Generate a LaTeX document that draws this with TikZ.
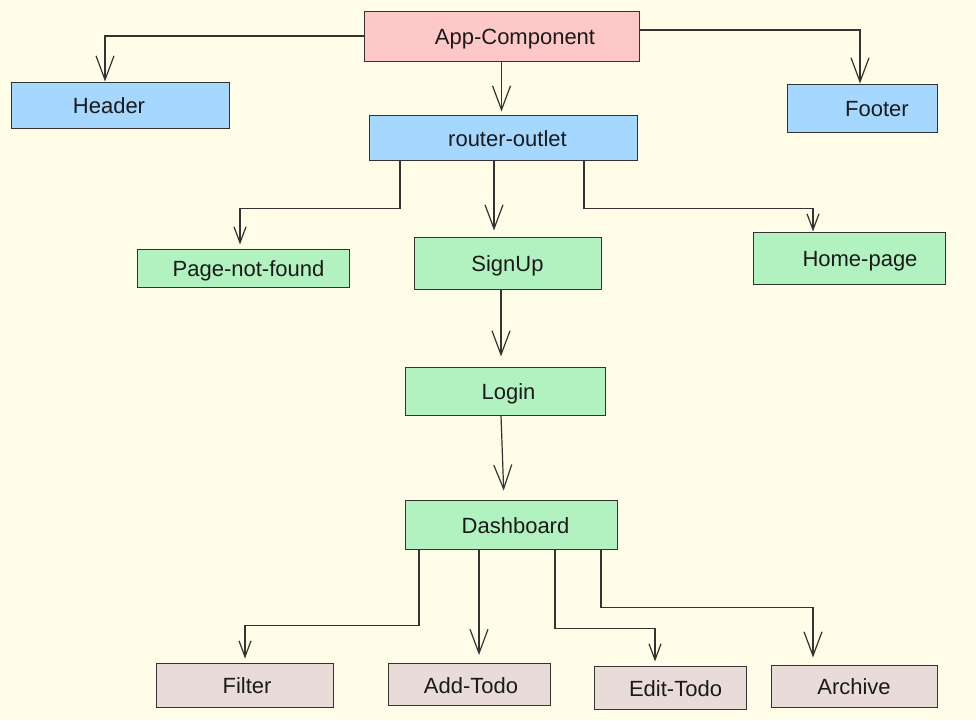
\documentclass[tikz,border=0pt]{standalone}
\usepackage{fontspec}
\setmainfont{Liberation Sans}
\usetikzlibrary{arrows.meta}
\definecolor{bg}{HTML}{FFFDE8}
\definecolor{pinkbox}{HTML}{FFC8C8}
\definecolor{bluebox}{HTML}{A6D8FF}
\definecolor{greenbox}{HTML}{B2F2C0}
\definecolor{taupebox}{HTML}{E9DCD8}
\definecolor{edge}{HTML}{333333}
\definecolor{txt}{HTML}{1A1A1A}
\begin{document}
\begin{tikzpicture}[x=1pt,y=-1pt,
  box/.style={draw=edge, line width=1pt, inner sep=0pt, text=txt,
    text height=17pt, text depth=0pt,
    font=\fontsize{22}{24}\selectfont},
  pushr/.style={execute at begin node={\hspace*{#1}}},
  pushl/.style={execute at end node={\hspace*{#1}}},
  wire/.style={draw=edge, line width=1.2pt,
    -{Straight Barb[length=24pt,width=18pt,line width=1.2pt]}},
  smallwire/.style={draw=edge, line width=1.2pt,
    -{Straight Barb[length=16pt,width=12pt,line width=1.2pt]}}]
\fill[bg] (0,0) rectangle (976,720);
\useasboundingbox (0,0) rectangle (976,720);

% boxes
\node[box, pushr=27pt, fill=pinkbox, minimum width=275pt, minimum height=50pt] (app) at (501.5,36) {App-Component};
\node[box, pushl=22pt, fill=bluebox, minimum width=218pt, minimum height=46pt] (header) at (120,105) {Header};
\node[box, pushr=30pt, fill=bluebox, minimum width=150pt, minimum height=48pt] (footer) at (862,108) {Footer};
\node[box, pushr=9pt, fill=bluebox, minimum width=268pt, minimum height=45pt] (router) at (503,137.5) {router-outlet};
\node[box, pushr=11pt, fill=greenbox, minimum width=212pt, minimum height=38pt] (pnf) at (243,268) {Page-not-found};
\node[box, fill=greenbox, minimum width=187pt, minimum height=52pt] (signup) at (507.5,263) {SignUp};
\node[box, pushr=22pt, fill=greenbox, minimum width=192pt, minimum height=52pt] (home) at (849,258) {Home-page};
\node[box, pushr=7pt, fill=greenbox, minimum width=200pt, minimum height=48pt] (login) at (505,391) {Login};
\node[box, pushr=9pt, fill=greenbox, minimum width=212pt, minimum height=49pt] (dash) at (511,524.5) {Dashboard};
\node[box, pushr=5pt, fill=taupebox, minimum width=177pt, minimum height=44pt] (filter) at (244.5,685) {Filter};
\node[box, pushr=4pt, fill=taupebox, minimum width=162pt, minimum height=42pt] (add) at (469,684.5) {Add-Todo};
\node[box, pushr=11pt, fill=taupebox, minimum width=152pt, minimum height=43pt] (edit) at (670,687.5) {Edit-Todo};
\node[box, fill=taupebox, minimum width=166pt, minimum height=42pt] (archive) at (854,686) {Archive};

% connectors
\draw[wire] (app.west) -| ([xshift=-15pt]header.north);
\draw[wire] ([yshift=6pt]app.east) -| ([xshift=-2pt]footer.north);
\draw[wire, shorten >=3pt] (app.south) -- (app.south |- router.north);
\draw[smallwire, shorten >=4pt] ([xshift=-103pt]router.south) -- ++(0,48) -| ([xshift=-3pt]pnf.north);
\draw[wire, shorten >=6pt] ([xshift=-9pt]router.south) -- ([xshift=-13.5pt]signup.north);
\draw[smallwire] ([xshift=81pt]router.south) -- ++(0,48) -| ([xshift=-36pt]home.north);
\draw[wire, shorten >=10pt] ([xshift=-6.5pt]signup.south) -- ([xshift=-4pt]login.north);
\draw[wire, shorten >=9pt] ([xshift=-4pt]login.south) -- ([xshift=-7pt]dash.north);
\draw[smallwire, shorten >=4pt] ([xshift=-92pt]dash.south) -- ++(0,76) -| ([xshift=0.5pt]filter.north);
\draw[wire, shorten >=8pt] ([xshift=-32pt]dash.south) -- ([xshift=10pt]add.north);
\draw[smallwire, shorten >=4pt] ([xshift=44pt]dash.south) -- ++(0,79) -| ([xshift=-15pt]edit.north);
\draw[wire, shorten >=7pt] ([xshift=90pt]dash.south) -- ++(0,58) -| ([xshift=-41pt]archive.north);
\end{tikzpicture}
\end{document}
